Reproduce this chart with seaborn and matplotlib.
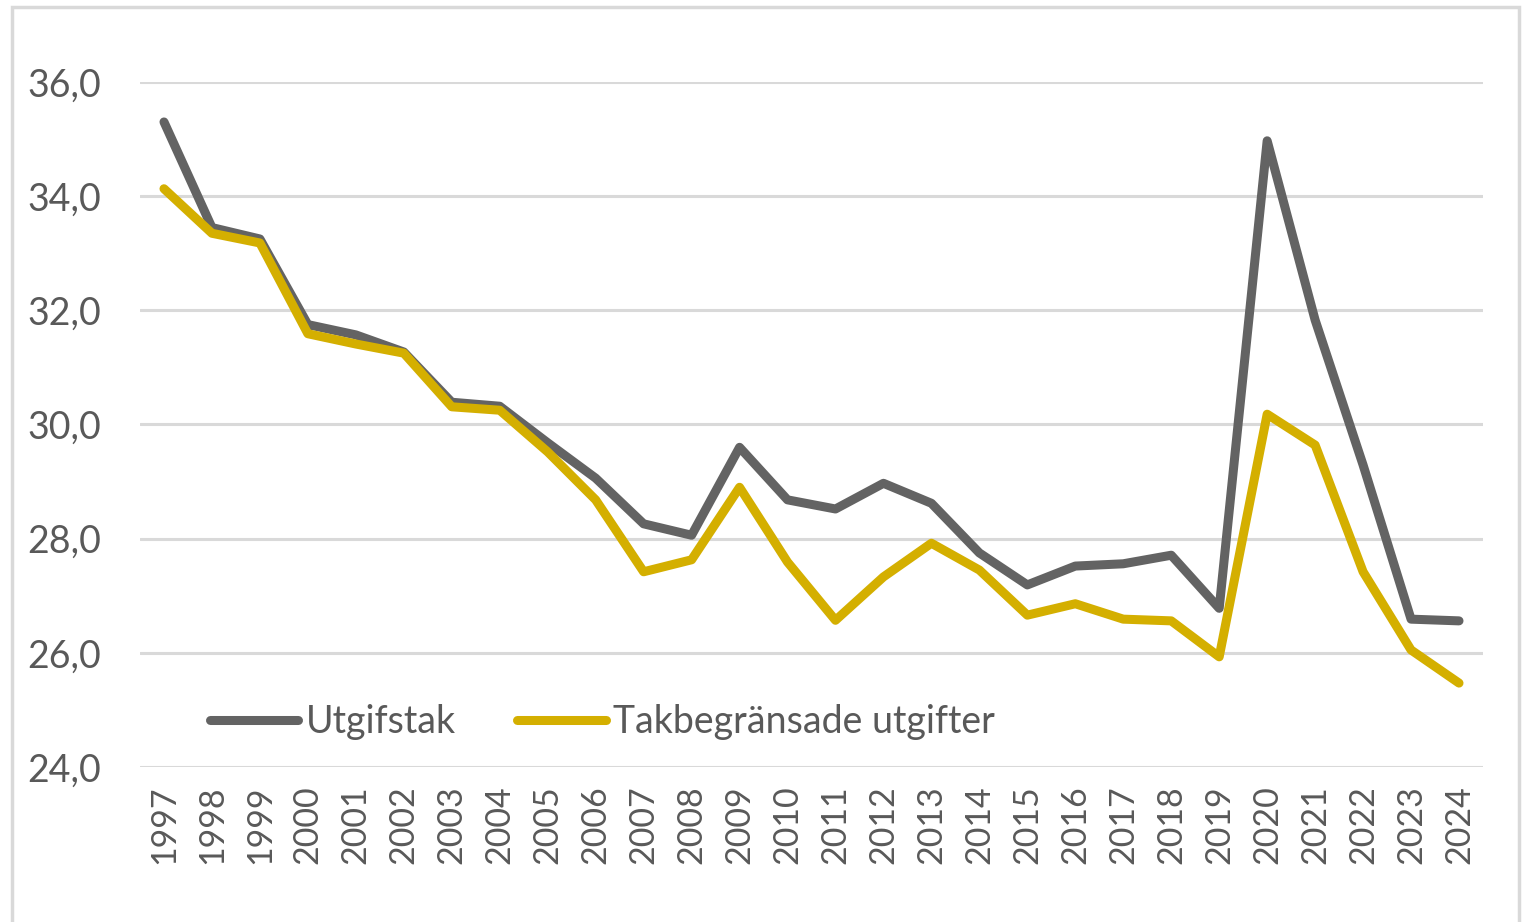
import numpy as np
import pandas as pd
import seaborn as sns
from matplotlib import pyplot as plt
from matplotlib.patches import Rectangle

# data
years = list(range(1997, 2025))
utgiftstak = [35.3, 33.45, 33.25, 31.75, 31.57, 31.27, 30.39, 30.32, 29.68, 29.06,
              28.26, 28.06, 29.6, 28.68, 28.52, 28.97, 28.62, 27.75, 27.19, 27.52,
              27.56, 27.71, 26.78, 34.97, 31.83, 29.29, 26.59, 26.56]
takbegransade = [34.13, 33.35, 33.18, 31.59, 31.41, 31.25, 30.31, 30.25, 29.52, 28.68,
                 27.42, 27.63, 28.9, 27.59, 26.57, 27.33, 27.92, 27.45, 26.66, 26.86,
                 26.59, 26.56, 25.93, 30.18, 29.64, 27.42, 26.05, 25.47]
series_names = ["Utgifstak", "Takbegränsade utgifter"]
yticks = [24, 26, 28, 30, 32, 34, 36]

df = pd.DataFrame({
    "year": years * 2,
    "value": utgiftstak + takbegransade,
    "serie": [series_names[0]] * len(years) + [series_names[1]] * len(years),
})

sns.set_theme(style="white")
plt.rcParams['font.family'] = ['Lato', 'DejaVu Sans']

text_col = "#595959"
grid_col = "#D9D9D9"
palette = {series_names[0]: "#636363", series_names[1]: "#D4AF00"}

fig = plt.figure(figsize=(15.23, 9.22), dpi=100)
ax = fig.add_axes([140 / 1523, 1 - 767 / 922, (1483 - 140) / 1523, (767 - 82) / 922])

sns.lineplot(data=df, x="year", y="value", hue="serie", palette=palette,
             linewidth=6.5, ax=ax, solid_capstyle="round", solid_joinstyle="round")

ax.set_xlim(1996.5, 2024.5)
ax.set_ylim(24, 36)
ax.set_xticks(years)
ax.set_xticklabels([str(y) for y in years], rotation=90, fontsize=24.5, color=text_col)
ax.set_yticks(yticks)
ax.set_yticklabels([f"{v:.1f}".replace(".", ",") for v in yticks], fontsize=27, color=text_col)
ax.tick_params(axis="x", length=0, pad=13)
ax.tick_params(axis="y", length=0, pad=28)
ax.set_xlabel("")
ax.set_ylabel("")
for s in ax.spines.values():
    s.set_visible(False)
ax.yaxis.grid(True, color=grid_col, linewidth=2.2)
ax.set_axisbelow(True)

leg = ax.legend(loc="center left", bbox_to_anchor=(0.052, 0.066), ncol=2, frameon=False,
                fontsize=27, handlelength=2.35, handletextpad=0.2, columnspacing=1.65,
                borderaxespad=0, borderpad=0)
for t in leg.get_texts():
    t.set_color(text_col)
for h in leg.get_lines():
    h.set_linewidth(6.5)
    h.set_solid_capstyle("round")

# light frame around the chart
fig.patches.append(Rectangle((12 / 1523, -0.01), (1519 - 12) / 1523, 1 - 7 / 922 + 0.01,
                             transform=fig.transFigure, fill=False,
                             edgecolor=grid_col, linewidth=2.5))

fig.savefig("out.png", dpi=100)
